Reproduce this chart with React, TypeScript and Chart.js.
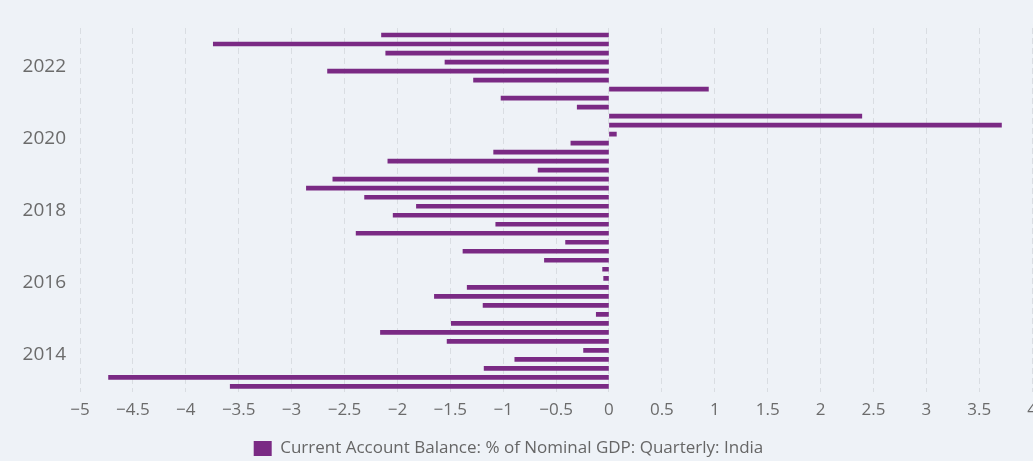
import React, { useEffect, useRef } from "react";
import { Chart, registerables } from "chart.js";

Chart.register(...registerables);

const quarters: string[] = [
  "2013-Q1", "2013-Q2", "2013-Q3", "2013-Q4",
  "2014-Q1", "2014-Q2", "2014-Q3", "2014-Q4",
  "2015-Q1", "2015-Q2", "2015-Q3", "2015-Q4",
  "2016-Q1", "2016-Q2", "2016-Q3", "2016-Q4",
  "2017-Q1", "2017-Q2", "2017-Q3", "2017-Q4",
  "2018-Q1", "2018-Q2", "2018-Q3", "2018-Q4",
  "2019-Q1", "2019-Q2", "2019-Q3", "2019-Q4",
  "2020-Q1", "2020-Q2", "2020-Q3", "2020-Q4",
  "2021-Q1", "2021-Q2", "2021-Q3", "2021-Q4",
  "2022-Q1", "2022-Q2", "2022-Q3", "2022-Q4",
];

const balance: number[] = [
  -3.58, -4.73, -1.18, -0.89,
  -0.24, -1.53, -2.16, -1.49,
  -0.12, -1.19, -1.65, -1.34,
  -0.05, -0.06, -0.61, -1.38,
  -0.41, -2.39, -1.07, -2.04,
  -1.82, -2.31, -2.86, -2.61,
  -0.67, -2.09, -1.09, -0.36,
  0.07, 3.71, 2.39, -0.3,
  -1.02, 0.94, -1.28, -2.66,
  -1.55, -2.11, -3.74, -2.15,
];

const yearTicks: number[] = [2014, 2016, 2018, 2020, 2022];
const seriesLabel = "Current Account Balance: % of Nominal GDP: Quarterly: India";

const quarterPos = (q: string): number => {
  const [y, qq] = q.split("-Q");
  return Number(y) + (Number(qq) - 0.5) / 4;
};

export default function App() {
  const ref = useRef<HTMLCanvasElement | null>(null);

  useEffect(() => {
    document.body.style.margin = "0";
    if (!ref.current) return;
    const points = quarters.map((q, i) => ({ x: balance[i], y: quarterPos(q) }));
    const chart = new Chart(ref.current, {
      type: "bar",
      data: {
        datasets: [
          {
            label: seriesLabel,
            data: points as any,
            backgroundColor: "#7a2a84",
            borderWidth: 0,
            barThickness: 4,
          },
        ],
      },
      options: {
        animation: false,
        responsive: false,
        maintainAspectRatio: false,
        indexAxis: "y",
        layout: { padding: { top: 28, left: 0, right: 0, bottom: 0 } },
        plugins: {
          legend: {
            position: "bottom",
            labels: {
              boxWidth: 18,
              boxHeight: 15,
              color: "#666666",
              font: { family: "'Open Sans'", size: 17 },
              padding: 10,
            },
          },
          tooltip: { enabled: false },
        },
        scales: {
          x: {
            type: "linear",
            min: -5,
            max: 4,
            border: { display: false, dash: [6, 4] },
            grid: {
              color: "#d9dde2",
              drawTicks: false,
              lineWidth: 1,
            },
            ticks: {
              stepSize: 0.5,
              padding: 8,
              color: "#6b6b6b",
              font: { family: "'Open Sans'", size: 17 },
              callback: (v: any) => String(v).replace("-", "\u2212"),
            },
            afterFit: (s: any) => {
              s.height = 32;
            },
          },
          y: {
            type: "linear",
            offset: false,
            min: 2012.97,
            max: 2023.07,
            border: { display: false },
            grid: { display: false, drawTicks: false },
            afterBuildTicks: (s: any) => {
              s.ticks = yearTicks.map((v) => ({ value: v }));
            },
            ticks: {
              padding: 14,
              color: "#6b6b6b",
              font: { family: "'Open Sans'", size: 19 },
              callback: (v: any) => String(v),
            },
            afterFit: (s: any) => {
              s.width = 80;
            },
          },
        },
      },
      plugins: [
        {
          id: "legendShift",
          afterLayout: (c: any) => {
            if (c.legend) {
              c.legend.left -= 14;
              c.legend.right -= 14;
              c.legend.top += 6;
              c.legend.bottom += 6;
            }
          },
        },
      ],
    });
    return () => chart.destroy();
  }, []);

  return (
    <div style={{ width: 1033, height: 461, overflow: "hidden", background: "#eef2f7" }}>
      <canvas ref={ref} width={1045} height={461} style={{ display: "block" }} />
    </div>
  );
}
